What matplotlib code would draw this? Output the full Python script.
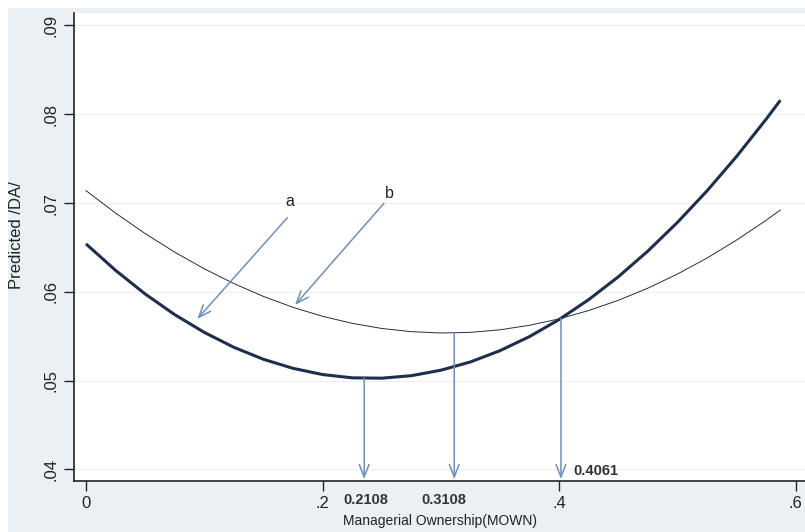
import matplotlib
matplotlib.use("Agg")
import matplotlib.pyplot as plt
from matplotlib.patches import Rectangle

plt.rcParams['font.family'] = ['Liberation Sans', 'DejaVu Sans']

# data
mown = [0.0, 0.025, 0.05, 0.075, 0.1, 0.125, 0.15, 0.175, 0.2, 0.225, 0.25, 0.275,
        0.3, 0.325, 0.35, 0.375, 0.4, 0.425, 0.45, 0.475, 0.5, 0.525, 0.55, 0.575, 0.587]
curve_a = [0.06540, 0.06242, 0.05976, 0.05743, 0.05543, 0.05375, 0.05240, 0.05138,
           0.05068, 0.05031, 0.05027, 0.05055, 0.05117, 0.05210, 0.05337, 0.05496,
           0.05688, 0.05912, 0.06169, 0.06459, 0.06782, 0.07137, 0.07525, 0.07945, 0.08158]
curve_b = [0.07140, 0.06887, 0.06656, 0.06447, 0.06259, 0.06093, 0.05948, 0.05825,
           0.05724, 0.05645, 0.05587, 0.05551, 0.05536, 0.05543, 0.05572, 0.05623,
           0.05695, 0.05789, 0.05904, 0.06041, 0.06200, 0.06380, 0.06583, 0.06806, 0.06921]

yticks = [0.04, 0.05, 0.06, 0.07, 0.08, 0.09]
ytick_labels = ['.04', '.05', '.06', '.07', '.08', '.09']
xticks = [0.0, 0.2, 0.4, 0.6]
xtick_labels = ['0', '.2', '.4', '.6']

# vertical arrows: x position, start y
varrow_x = [0.2352, 0.3113, 0.4015]
varrow_y0 = [0.0503, 0.0554, 0.0570]
varrow_labels = ['0.2108', '0.3108', '0.4061']

# letter arrows: text pos, arrow start, arrow tip
letter_names = ['a', 'b']
letter_text_xy = [(0.1725, 0.0702), (0.2564, 0.0711)]
letter_start_xy = [(0.1702, 0.06834), (0.2519, 0.06997)]
letter_tip_xy = [(0.0941, 0.05694), (0.1767, 0.05851)]

fig = plt.figure(figsize=(8.05, 5.32), dpi=100)
fig.patch.set_facecolor('white')
fig.add_artist(Rectangle((8 / 805, 0), 1, 1 - 8 / 532, transform=fig.transFigure,
                         facecolor='#eaf0f3', edgecolor='none', zorder=0))

ax = fig.add_axes([74 / 805, 1 - 481 / 532, 1 - 74 / 805, (481 - 13) / 532])
ax.set_facecolor('white')
ax.set_xlim(-0.0101, 0.6078)
ax.set_ylim(0.03869, 0.0914)

for yv in yticks:
    ax.axhline(yv, color='#eef1f3', lw=1.0, zorder=1)

line_col = '#1e2f4d'
ax.plot(mown, curve_a, color=line_col, lw=2.2, zorder=3, solid_capstyle='butt',
        solid_joinstyle='round')
ax.plot(mown, curve_b, color=line_col, lw=0.7, zorder=3, solid_joinstyle='round')

arrow_col = '#6f8fbd'
tip_y = 0.0389
for x, y0 in zip(varrow_x, varrow_y0):
    ax.annotate('', xy=(x, tip_y), xytext=(x, y0),
                arrowprops=dict(arrowstyle='->,head_length=0.9,head_width=0.35',
                                color=arrow_col, lw=1.1, shrinkA=0, shrinkB=0), zorder=4)

for name, txy, sxy, pxy in zip(letter_names, letter_text_xy, letter_start_xy, letter_tip_xy):
    ax.annotate('', xy=pxy, xytext=sxy,
                arrowprops=dict(arrowstyle='->,head_length=0.9,head_width=0.35',
                                color=arrow_col, lw=1.1, shrinkA=0, shrinkB=0), zorder=4)
    ax.text(txy[0], txy[1], name, fontsize=11.5, ha='center', va='center', color='#222222')

# value labels near the arrows
lab_kw = dict(fontsize=10.5, fontweight='bold', color='#333333', clip_on=False, va='center')
ax.text(0.2362, 0.0366, varrow_labels[0], ha='center', **lab_kw)
ax.text(0.3024, 0.0366, varrow_labels[1], ha='center', **lab_kw)
ax.text(0.4117, 0.0398, varrow_labels[2], ha='left', **lab_kw)

ax.spines['top'].set_visible(False)
ax.spines['right'].set_visible(False)
for s in ['left', 'bottom']:
    ax.spines[s].set_color('#222222')
    ax.spines[s].set_linewidth(1.2)

ax.set_yticks(yticks)
ax.set_yticklabels(ytick_labels, rotation=90, va='center', fontsize=12)
ax.set_xticks(xticks)
ax.set_xticklabels(xtick_labels, fontsize=12)
ax.tick_params(axis='both', length=7, width=1.0, color='#222222', labelcolor='#222222', pad=4)

fig.text(440 / 805, 1 - 521 / 532, 'Managerial Ownership(MOWN)', fontsize=10,
         color='#222222', ha='center', va='center')
ax.set_ylabel('Predicted /DA/', fontsize=12, color='#222222')
ax.yaxis.set_label_coords(-(74 - 24) / (805 - 74), (481 - 235) / (481 - 13))

fig.savefig('out.png', dpi=100, facecolor=fig.get_facecolor())
